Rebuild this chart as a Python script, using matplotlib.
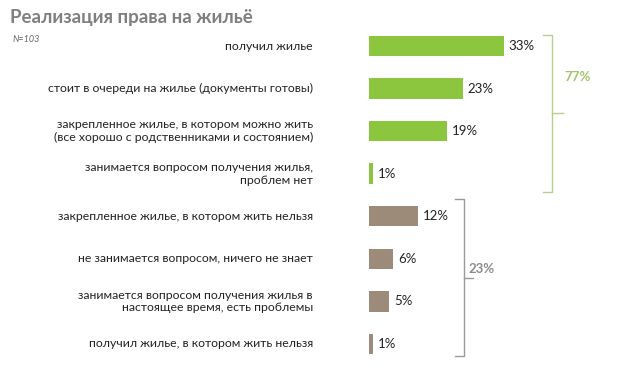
import matplotlib.pyplot as plt

plt.rcParams['font.family'] = ['Lato', 'DejaVu Sans']

labels = [
    'получил жилье',
    'стоит в очереди на жилье (документы готовы)',
    'закрепленное жилье, в котором можно жить\n(все хорошо с родственниками и состоянием)',
    'занимается вопросом получения жилья,\nпроблем нет',
    'закрепленное жилье, в котором жить нельзя',
    'не занимается вопросом, ничего не знает',
    'занимается вопросом получения жилья в\nнастоящее время, есть проблемы',
    'получил жилье, в котором жить нельзя',
]
values = [33, 23, 19, 1, 12, 6, 5, 1]
groups = ['good'] * 4 + ['bad'] * 4
group_totals = {'good': '77%', 'bad': '23%'}

colors = {'good': '#8cc63f', 'bad': '#9c8b78'}
total_colors = {'good': '#a3c46e', 'bad': '#8c8c8c'}

fig = plt.figure(figsize=(6.4, 3.69), dpi=100)
ax = fig.add_axes([369 / 640, 0, 271 / 640, 1])

px_per_unit = 271 / 4.08  # x range in percent
ax.set_xlim(0, px_per_unit)
ax.set_ylim((369 - 46) / 42.57, -46 / 42.57)
ax.axis('off')

ypos = list(range(len(values)))
ax.barh(ypos, values, height=0.48, color=[colors[g] for g in groups])

tr = ax.get_yaxis_transform()
for y, v, lab in zip(ypos, values, labels):
    ax.text(v + 1.2, y, f'{v}%', va='center', ha='left', fontsize=9.5, color='#222222')
    ax.text(-0.207, y, lab, transform=tr, va='center', ha='right', fontsize=8.8,
            color='#222222', linespacing=1.2, clip_on=False)


def brace(x, y0, y1, ym, hook, tick, color):
    ax.plot([x - hook, x, x, x - hook], [y0, y0, y1, y1], color=color, lw=1,
            transform=tr, clip_on=False)
    ax.plot([x, x + tick], [ym, ym], color=color, lw=1, transform=tr, clip_on=False)


brace(0.675, -0.26, 3.43, 1.57, 0.033, 0.04, '#b5cf8c')
brace(0.35, 3.59, 7.28, 5.45, 0.033, 0.035, '#9a9a9a')
ax.text(0.722, 0.73, group_totals['good'], transform=tr, fontsize=9.5, fontweight='bold',
        color=total_colors['good'], va='center', ha='left')
ax.text(0.368, 5.24, group_totals['bad'], transform=tr, fontsize=9.5, fontweight='bold',
        color=total_colors['bad'], va='center', ha='left')

fig.text(10 / 640, 1 - 17 / 369, 'Реализация права на жильё', fontsize=13.5,
         fontweight='bold', color='#7f7f7f', va='center', ha='left')
fig.text(13 / 640, 1 - 39 / 369, 'N=103', fontsize=6.5, style='italic',
         color='#666666', va='center', ha='left')

fig.savefig('out.png', dpi=100, facecolor='white')
